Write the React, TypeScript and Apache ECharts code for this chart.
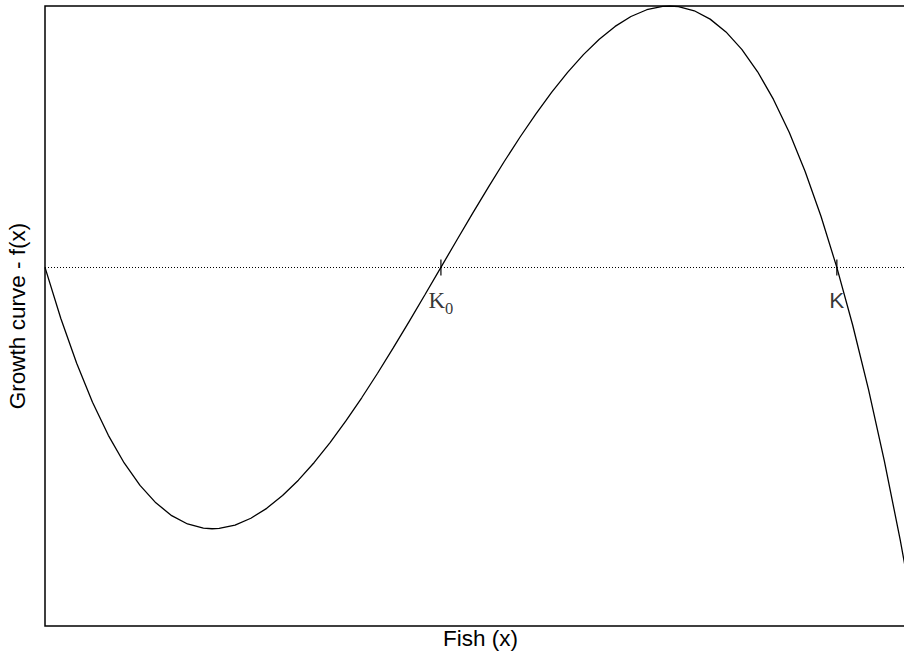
import React, { useEffect, useRef } from "react";
import * as echarts from "echarts";

// Fish stock (x) and growth f(x)
const fishX = [
  0, 2, 4, 6, 8, 10, 12, 14, 16, 18, 20, 21.1, 22, 24, 26, 28, 30, 32, 34, 36, 38, 40,
  42, 44, 46, 48, 50, 52, 54, 56, 58, 60, 62, 64, 66, 68, 70, 72, 74, 76, 78, 78.9,
  80, 82, 84, 86, 88, 90, 92, 94, 96, 98, 100, 102, 104, 106, 108, 110,
];
const growthY = [
  0, -19.55, -36.71, -51.58, -64.25, -74.83, -83.41, -90.09, -94.98, -98.17, -99.77, -100.0,
  -99.87, -98.57, -95.98, -92.19, -87.3, -81.41, -74.63, -67.04, -58.76, -49.88,
  -40.51, -30.73, -20.65, -10.38, 0, 10.38, 20.65, 30.73, 40.51, 49.88, 58.76, 67.04,
  74.63, 81.41, 87.3, 92.19, 95.98, 98.57, 99.87, 100.0,
  99.77, 98.17, 94.98, 90.09, 83.41, 74.83, 64.25, 51.58, 36.71, 19.55, 0, -22.05,
  -46.69, -74.03, -104.16, -137.18,
];

// Equilibrium points marked on the zero line
const markX = [50, 100];
const markBase = ["K", "K"];
const markSub = ["0", ""];

const xRange = [0, 110];
const yRange = [-137.2, 100];

const xTitle = "Fish (x)";
const yTitle = "Growth curve - f(x)";

export default function App() {
  const ref = useRef<HTMLDivElement>(null);

  useEffect(() => {
    if (!ref.current) return;
    const chart = echarts.init(ref.current, null, { renderer: "svg" });

    const curve = fishX.map((x, i) => [x, growthY[i]]);

    const marks = markX.map((x, i) => {
      const hasSub = markSub[i] !== "";
      return {
        value: [x, 0],
        label: hasSub
          ? {
              show: true,
              position: "bottom",
              distance: 8,
              formatter: `{k|${markBase[i]}}{s|${markSub[i]}}`,
              rich: {
                k: {
                  fontFamily: "Liberation Serif",
                  fontSize: 23,
                  lineHeight: 34,
                  color: "#000",
                },
                s: {
                  fontFamily: "Liberation Serif",
                  fontSize: 16.5,
                  lineHeight: 15,
                  verticalAlign: "bottom",
                  color: "#000",
                },
              },
            }
          : {
              show: true,
              position: "bottom",
              distance: 14,
              formatter: markBase[i],
              fontFamily: "Liberation Sans",
              fontSize: 22.5,
              color: "#000",
            },
      };
    });

    chart.setOption({
      animation: false,
      backgroundColor: "#fff",
      grid: {
        left: 45,
        top: 6,
        right: 14,
        bottom: 27,
        outerBoundsMode: "none",
        containLabel: false,
        show: true,
        borderColor: "#000",
        borderWidth: 1.5,
        backgroundColor: "transparent",
      },
      xAxis: {
        type: "value",
        min: xRange[0],
        max: xRange[1],
        axisLine: { show: false },
        axisTick: { show: false },
        axisLabel: { show: false },
        splitLine: { show: false },
        name: xTitle,
        nameLocation: "middle",
        nameGap: 1,
        nameTextStyle: {
          fontFamily: "Liberation Sans",
          fontSize: 22.5,
          color: "#000",
        },
      },
      yAxis: {
        type: "value",
        min: yRange[0],
        max: yRange[1],
        axisLine: { show: false },
        axisTick: { show: false },
        axisLabel: { show: false },
        splitLine: { show: false },
        name: yTitle,
        nameLocation: "middle",
        nameGap: 16,
        nameTextStyle: {
          fontFamily: "Liberation Sans",
          fontSize: 22.5,
          color: "#000",
        },
      },
      series: [
        {
          type: "line",
          data: curve,
          showSymbol: false,
          symbol: "none",
          lineStyle: { color: "#000", width: 1.3 },
          silent: true,
          markLine: {
            silent: true,
            symbol: ["none", "none"],
            label: { show: false },
            lineStyle: { color: "#000", width: 1, type: [1, 2] },
            data: [{ yAxis: 0 }],
          },
        },
        {
          type: "scatter",
          data: marks,
          symbol: "rect",
          symbolSize: [1.5, 16],
          itemStyle: { color: "#000" },
          silent: true,
        },
      ],
    });

    return () => chart.dispose();
  }, []);

  return (
    <div
      style={{
        position: "fixed",
        left: 0,
        top: 0,
        width: 904,
        height: 653,
        overflow: "hidden",
        background: "#fff",
      }}
    >
      <div ref={ref} style={{ position: "absolute", left: 0, top: 0, width: 930, height: 653 }} />
    </div>
  );
}
